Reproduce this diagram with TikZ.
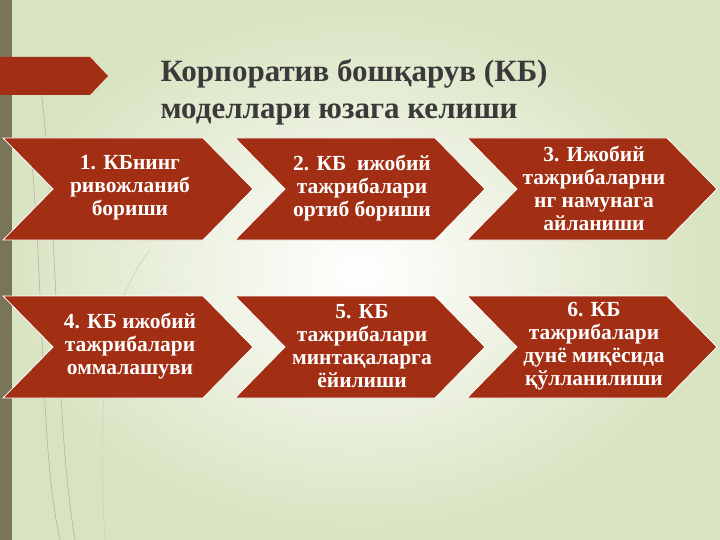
\documentclass[tikz,border=0pt]{standalone}
\usepackage{fontspec}
\setmainfont{Liberation Serif}
\definecolor{brick}{HTML}{A22E14}
\definecolor{olive}{HTML}{7A7458}
\definecolor{bgedge}{HTML}{D8E3C0}
\definecolor{titlegray}{HTML}{3A3A3A}
\begin{document}
\begin{tikzpicture}[x=1pt,y=-1pt,
  chev/.style={fill=brick,draw=white,line width=0.8pt},
  ctext/.style={text=white,font=\bfseries\fontsize{21.5}{23}\selectfont,align=center}]
\useasboundingbox (0,0) rectangle (720,540);
\shade[inner color=white,outer color=bgedge] (0,0) rectangle (720,540);
\fill[olive] (0,0) rectangle (12,540);
\draw[olive!60,line width=0.5pt] (30,140) .. controls (45,300) and (40,450) .. (60,540);
\draw[olive!60,line width=0.5pt] (40,80) .. controls (60,250) and (55,420) .. (75,540);
\draw[olive!40,line width=0.4pt] (150,250) .. controls (110,300) and (95,380) .. (105,540);
% banner
\fill[brick] (0,57) -- (90,57) -- (108,76) -- (90,95) -- (0,95) -- cycle;
\node[anchor=west,text=titlegray,font=\bfseries\fontsize{31}{37}\selectfont,align=left] (title) at (157,92) {Корпоратив бошқарув (КБ)\\моделлари юзага келиши};
% chevrons
\foreach \i/\px/\py/\t in {
 1/3/138/{1. КБнинг\\ривожланиб\\бориши},
 2/235/138/{2. КБ\ \ ижобий\\тажрибалари\\ортиб бориши},
 3/467/138/{3. Ижобий\\тажрибаларни\\нг намунага\\айланиши},
 4/3/296/{4. КБ ижобий\\тажрибалари\\оммалашуви},
 5/235/296/{5. КБ\\тажрибалари\\минтақаларга\\ёйилиши},
 6/467/296/{6. КБ\\тажрибалари\\дунё миқёсида\\қўлланилиши}}{
  \draw[chev] (\px,\py) -- ++(200,0) -- ++(50,51) -- ++(-50,51) -- ++(-200,0) -- ++(50,-51) -- cycle;
  \node[ctext] (c\i) at (\px,\py) [xshift=127pt,yshift=-50pt] {\t};
}
\end{tikzpicture}
\end{document}
